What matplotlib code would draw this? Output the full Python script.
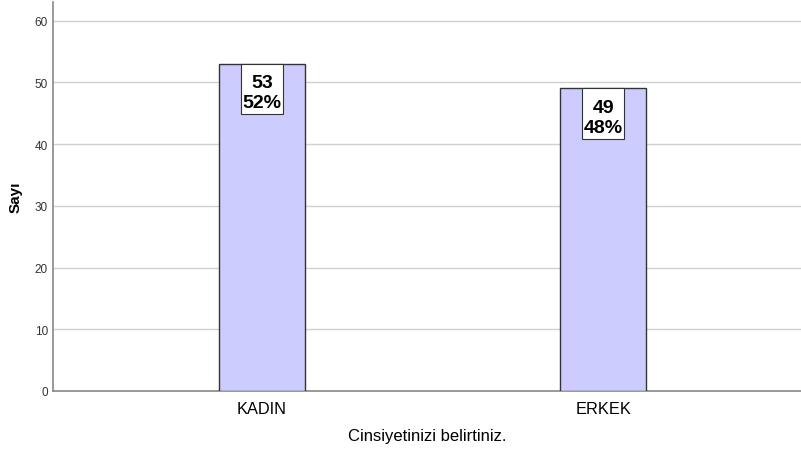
import matplotlib
matplotlib.use("Agg")
import matplotlib.pyplot as plt
from matplotlib.path import Path

categories = ["KADIN", "ERKEK"]
counts = [53, 49]
percents = ["52%", "48%"]
yticks = [0, 10, 20, 30, 40, 50, 60]

plt.rcParams['font.family'] = ['Liberation Sans', 'DejaVu Sans']

fig = plt.figure(figsize=(8.01, 4.52), dpi=100)
ax = fig.add_axes([53/801, 60/452, 1 - 53/801, (392-3)/452])

x = list(range(len(categories)))
ax.bar(x, counts, width=0.252, color="#ccccff", edgecolor="#333333", linewidth=1.0, zorder=3)


def label_box(x0, y0, width, height, mutation_size):
    # asymmetric padding in pixels: left/right, top, bottom
    l, r, t, b = 1.5, 1.5, 10.5, 3.5
    xa, xb = x0 - l, x0 + width + r
    ya, yb = y0 - b, y0 + height + t
    verts = [(xa, ya), (xb, ya), (xb, yb), (xa, yb), (xa, ya)]
    return Path(verts, closed=True)


for xi, c, p in zip(x, counts, percents):
    ax.annotate(f"{c}\n{p}", xy=(xi, c), xytext=(0, -10.5 * 72 / 100),
                textcoords="offset points",
                ha="center", va="top", fontsize=14, fontweight="bold", linespacing=1.2,
                bbox=dict(boxstyle=label_box, fc="white", ec="#333333", lw=0.8),
                zorder=5)

ax.set_xlim(-0.613, 1.58)
ax.set_ylim(0, 63)
ax.set_yticks(yticks)
ax.set_xticks(x)
ax.set_xticklabels(categories, fontsize=11.8, color="black")
ax.tick_params(axis='y', labelsize=8.5, labelcolor="#333333", length=0, pad=3.6)
ax.tick_params(axis='x', length=0, pad=7)
ax.grid(axis='y', color="#d0d0d0", linewidth=1.0, zorder=0)
for s in ["top", "right"]:
    ax.spines[s].set_visible(False)
for s in ["left", "bottom"]:
    ax.spines[s].set_color("#888888")
    ax.spines[s].set_linewidth(1.2)
ax.set_ylabel("Sayı", fontsize=11, fontweight="bold")
ax.yaxis.set_label_coords((23 - 53) / 748, 0.5)
ax.set_xlabel("Cinsiyetinizi belirtiniz.", fontsize=12)
ax.xaxis.set_label_coords(0.5, -(429 - 392) / 389)

fig.savefig("out.png", dpi=100)
